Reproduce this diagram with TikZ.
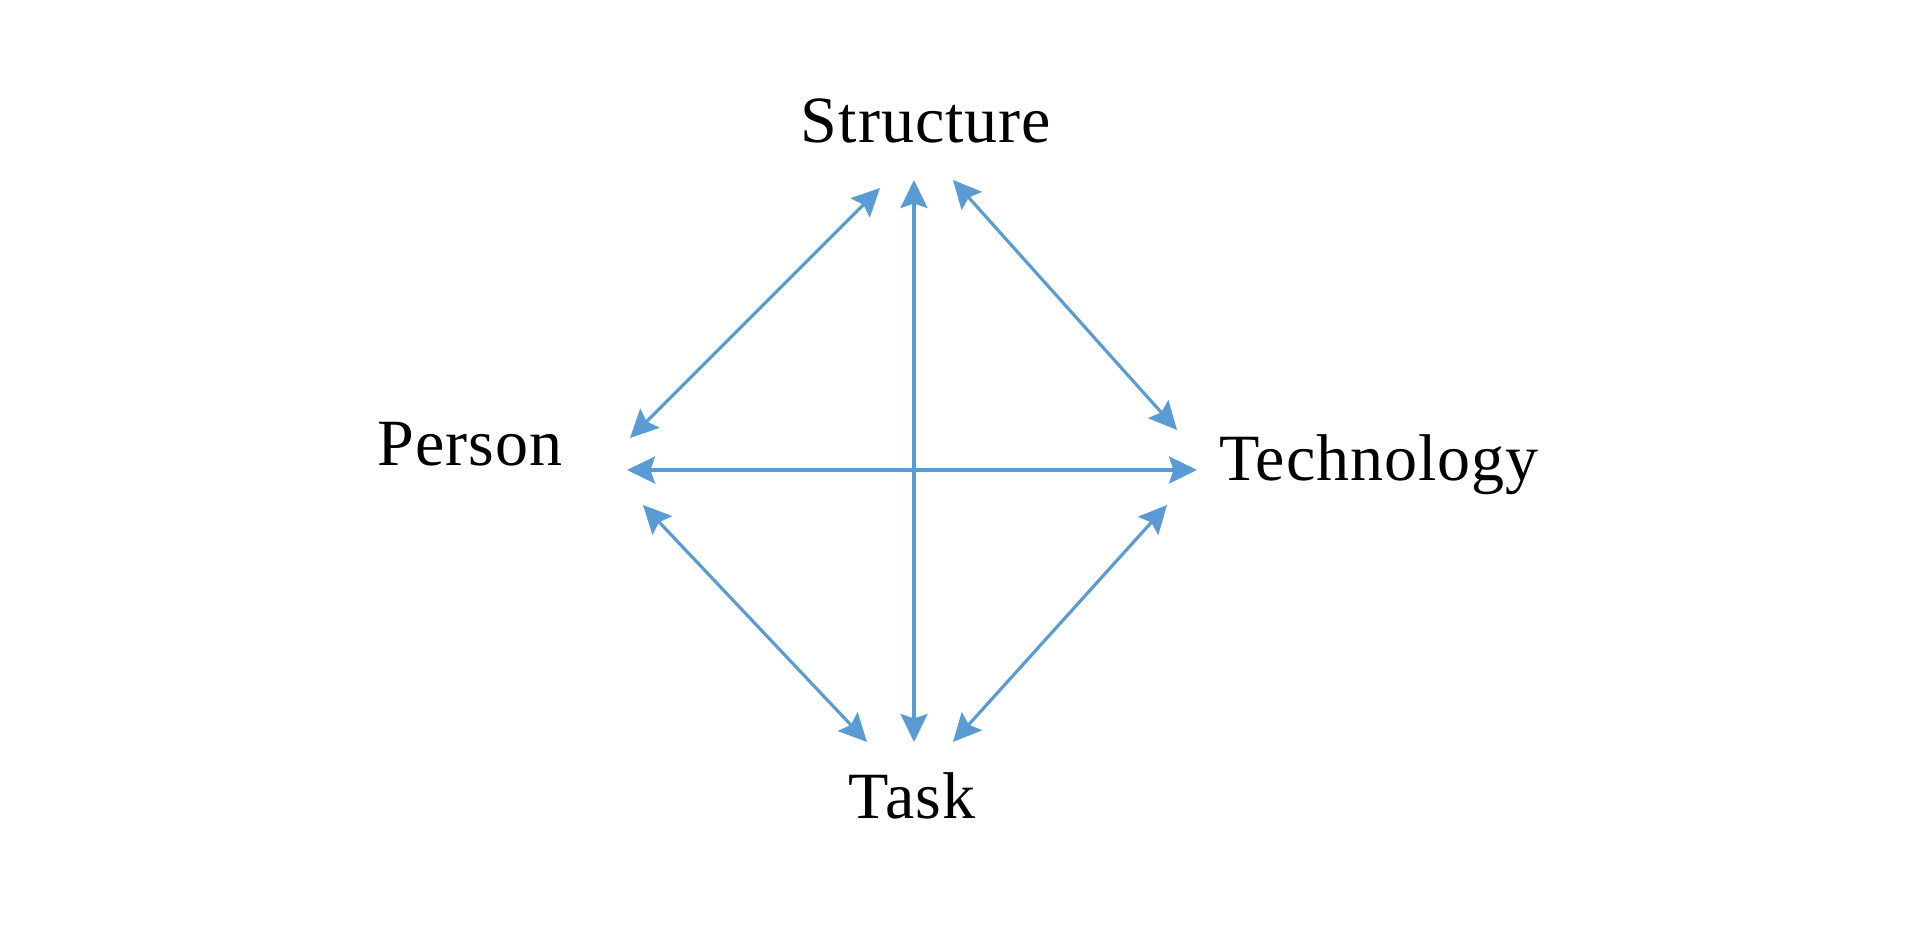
\documentclass[tikz,border=0pt]{standalone}
\usepackage{fontspec}
\setmainfont{Liberation Serif}
\usepackage{xcolor}
\usetikzlibrary{arrows.meta}

\definecolor{linkblue}{RGB}{91,155,213}

\begin{document}
\begin{tikzpicture}[
	link/.style={{Stealth[length=2.8mm,width=2.7mm,inset=0.45mm]}-{Stealth[length=2.8mm,width=2.7mm,inset=0.45mm]}, linkblue, line width=0.9pt},
	label/.style={anchor=base, inner sep=0pt, font=\fontsize{18.8}{22}\selectfont\addfontfeature{LetterSpace=1.5}}
	]
	\useasboundingbox (0, 0) rectangle (19.2, 9.4);

	\node[label] (structure) at (9.26, 7.98) {Structure};
	\node[label] (person) at (4.70, 4.75) {Person};
	\node[label] (technology) at (13.79, 4.60) {Technology};
	\node[label] (task) at (9.12, 1.22) {Task};

	% arrow ends next to each label
	\coordinate (s-p) at (8.80, 7.52);
	\coordinate (s-k) at (9.14, 7.60);
	\coordinate (s-t) at (9.53, 7.60);
	\coordinate (p-s) at (6.30, 5.02);
	\coordinate (p-t) at (6.27, 4.70);
	\coordinate (p-k) at (6.43, 4.35);
	\coordinate (t-s) at (11.77, 5.10);
	\coordinate (t-p) at (11.97, 4.70);
	\coordinate (t-k) at (11.67, 4.35);
	\coordinate (k-p) at (8.67, 1.98);
	\coordinate (k-s) at (9.14, 1.98);
	\coordinate (k-t) at (9.53, 1.98);

	\draw[link] (s-k) -- (k-s);
	\draw[link] (p-t) -- (t-p);
	\draw[link] (s-p) -- (p-s);
	\draw[link] (s-t) -- (t-s);
	\draw[link] (p-k) -- (k-p);
	\draw[link] (t-k) -- (k-t);
\end{tikzpicture}
\end{document}
